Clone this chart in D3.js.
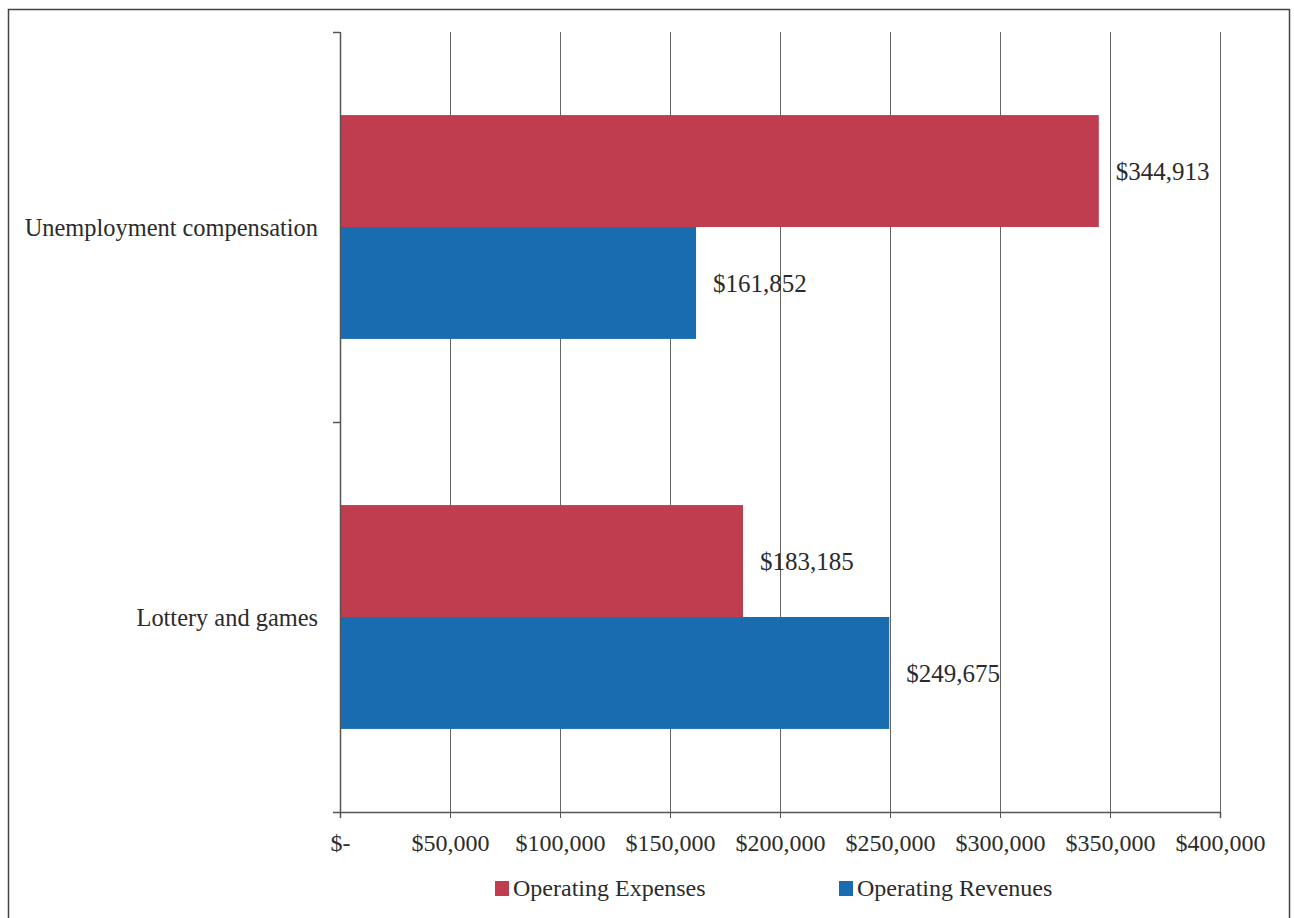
<!DOCTYPE html>
<html>
<head>
<meta charset="utf-8">
<script src="https://cdn.jsdelivr.net/npm/d3@7"></script>
<style>
  body { margin: 0; background: #fff; }
  text { font-family: "Liberation Serif", "Times New Roman", serif; fill: #2b2b2b; }
</style>
</head>
<body>
<div class="app"></div>
<script>
const categories = ['Unemployment compensation', 'Lottery and games']
const seriesNames = ['Operating Expenses', 'Operating Revenues']
const expenses = [344913, 183185]
const revenues = [161852, 249675]
const xTicks = [0, 50000, 100000, 150000, 200000, 250000, 300000, 350000, 400000]
const colors = ['#bf3d4e', '#1a6cb0']

const W = 1294, H = 918
const svg = d3.select('.app').append('svg').attr('width', W).attr('height', H)

// outer frame
svg.append('path')
  .attr('d', `M8.5,${H} V9.5 H${W - 4.5} V${H}`)
  .attr('fill', 'none').attr('stroke', '#444').attr('stroke-width', 1.5)

const x = d3.scaleLinear().domain([0, 400000]).range([340, 1220])
const y0 = d3.scaleBand().domain(categories).range([32, 812])
  .paddingInner(0.426).paddingOuter(0.213)
const y1 = d3.scaleBand().domain(seriesNames).range([0, y0.bandwidth()])

const fmt = v => v === 0 ? '$-' : '$' + d3.format(',')(v)

// gridlines
svg.append('g').selectAll('line').data(xTicks.slice(1)).enter().append('line')
  .attr('x1', d => x(d) + 0.5).attr('x2', d => x(d) + 0.5)
  .attr('y1', 32).attr('y2', 812)
  .attr('stroke', '#666').attr('stroke-width', 1)

const rows = categories.map((c, i) => ({ cat: c, vals: [expenses[i], revenues[i]] }))

const groups = svg.append('g').selectAll('g').data(rows).enter().append('g')
  .attr('transform', d => `translate(0,${y0(d.cat)})`)

groups.selectAll('rect').data(d => d.vals.map((v, j) => ({ name: seriesNames[j], v, j })))
  .enter().append('rect')
  .attr('x', x(0)).attr('y', d => y1(d.name))
  .attr('width', d => x(d.v) - x(0)).attr('height', y1.bandwidth())
  .attr('fill', d => colors[d.j])

groups.selectAll('text.val').data(d => d.vals.map((v, j) => ({ name: seriesNames[j], v, j })))
  .enter().append('text').attr('class', 'val')
  .attr('x', d => x(d.v) + 17).attr('y', d => y1(d.name) + y1.bandwidth() / 2)
  .attr('dy', '0.35em').attr('font-size', 25)
  .text(d => fmt(d.v))

// y axis
const yAxis = svg.append('g')
yAxis.append('line').attr('x1', 340.5).attr('x2', 340.5).attr('y1', 32).attr('y2', 812)
  .attr('stroke', '#555').attr('stroke-width', 1.5)
const yTickPos = [32, y0.step() * 1 + 32, 812]
yAxis.selectAll('line.t').data(yTickPos).enter().append('line').attr('class', 't')
  .attr('x1', 333).attr('x2', 340).attr('y1', d => d + 0.5).attr('y2', d => d + 0.5)
  .attr('stroke', '#555').attr('stroke-width', 1.5)
yAxis.selectAll('text').data(categories).enter().append('text')
  .attr('x', 318).attr('y', d => y0(d) + y0.bandwidth() / 2)
  .attr('dy', '0.35em').attr('text-anchor', 'end').attr('font-size', 24.4)
  .text(d => d)

// x axis
const xAxis = svg.append('g').attr('transform', 'translate(0,812)')
  .call(d3.axisBottom(x).tickValues(xTicks).tickFormat(fmt).tickSize(6).tickPadding(16))
xAxis.select('.domain').attr('stroke', '#555').attr('stroke-width', 1.5)
xAxis.selectAll('.tick line').attr('stroke', '#555')
xAxis.selectAll('.tick text').attr('font-size', 24)
  .style('font-family', '"Liberation Serif", serif').attr('fill', '#2b2b2b')

// legend
const legend = svg.append('g')
const legendX = [495, 839]
seriesNames.forEach((name, i) => {
  const g = legend.append('g').attr('transform', `translate(${legendX[i]},888)`)
  g.append('rect').attr('x', 0).attr('y', -7).attr('width', 14).attr('height', 15).attr('fill', colors[i])
  g.append('text').attr('x', 18).attr('dy', '0.35em').attr('font-size', 24).text(name)
})
</script>
</body>
</html>
